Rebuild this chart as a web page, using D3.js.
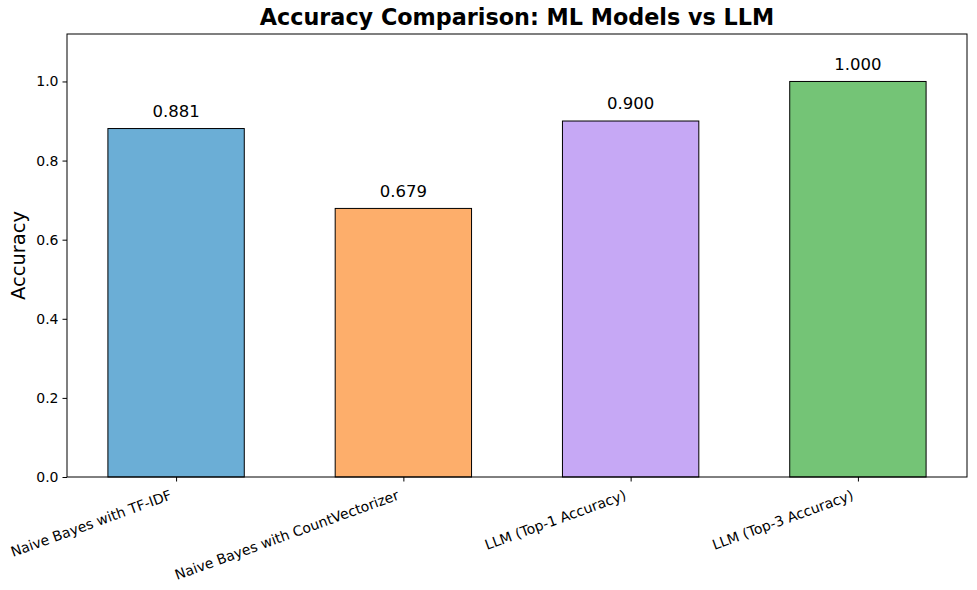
<!DOCTYPE html>
<html><head><meta charset="utf-8">
<script src="https://cdnjs.cloudflare.com/ajax/libs/d3/7.8.5/d3.min.js"></script>
<style>body{margin:0;background:#fff;} text{font-family:"DejaVu Sans",sans-serif;}</style>
</head><body><svg id="c" width="977" height="590"></svg>
<script>
const categories = ["Naive Bayes with TF-IDF","Naive Bayes with CountVectorizer","LLM (Top-1 Accuracy)","LLM (Top-3 Accuracy)"];
const accuracy = [0.881, 0.679, 0.900, 1.000];
const barLabels = ["0.881","0.679","0.900","1.000"];
const colors = ["#6baed6","#fdae6b","#c6a8f5","#74c476"];
const yTicks = [0.0,0.2,0.4,0.6,0.8,1.0];

const svg = d3.select("#c");
const L=67, R=967, T=34, B=477;
const x = d3.scaleLinear().domain([-0.48,3.48]).range([L,R]);
const y = d3.scaleLinear().domain([0,1.12]).range([B,T]);
const bw = 0.6;

svg.selectAll("rect.bar").data(accuracy).enter().append("rect")
  .attr("x",(d,i)=>x(i-bw/2)).attr("width",(d,i)=>x(i+bw/2)-x(i-bw/2))
  .attr("y",d=>y(d)).attr("height",d=>B-y(d))
  .attr("fill",(d,i)=>colors[i]).attr("stroke","#000").attr("stroke-width",1);

svg.selectAll("text.vl").data(accuracy).enter().append("text")
  .attr("x",(d,i)=>x(i)).attr("y",d=>y(d+0.02)-4)
  .attr("text-anchor","middle").attr("font-size",16.5).attr("fill","#000")
  .text((d,i)=>barLabels[i]);

// frame
svg.append("rect").attr("x",L).attr("y",T).attr("width",R-L).attr("height",B-T)
  .attr("fill","none").attr("stroke","#000").attr("stroke-width",1);

const ya = svg.append("g").attr("transform",`translate(${L},0)`)
  .call(d3.axisLeft(y).tickValues(yTicks).tickFormat(d3.format(".1f")).tickSize(4.5).tickPadding(4));
ya.select(".domain").remove();
ya.selectAll("text").attr("font-size",14).attr("font-family","DejaVu Sans").attr("fill","#000");

const xa = svg.append("g").attr("transform",`translate(0,${B})`)
  .call(d3.axisBottom(x).tickValues(d3.range(categories.length)).tickFormat(i=>categories[i]).tickSize(4.5));
xa.select(".domain").remove();
xa.selectAll("text").attr("font-size",14).attr("font-family","DejaVu Sans").attr("fill","#000")
  .attr("text-anchor","end").attr("y",0).attr("dy","0")
  .attr("transform","translate(-4,22) rotate(-20)");

svg.append("text").attr("transform",`translate(25,${(T+B)/2}) rotate(-90)`)
  .attr("text-anchor","middle").attr("font-size",19.5).text("Accuracy");

svg.append("text").attr("x",(L+R)/2).attr("y",25).attr("text-anchor","middle")
  .attr("font-size",22.3).attr("font-weight","bold").text("Accuracy Comparison: ML Models vs LLM");
</script></body></html>
